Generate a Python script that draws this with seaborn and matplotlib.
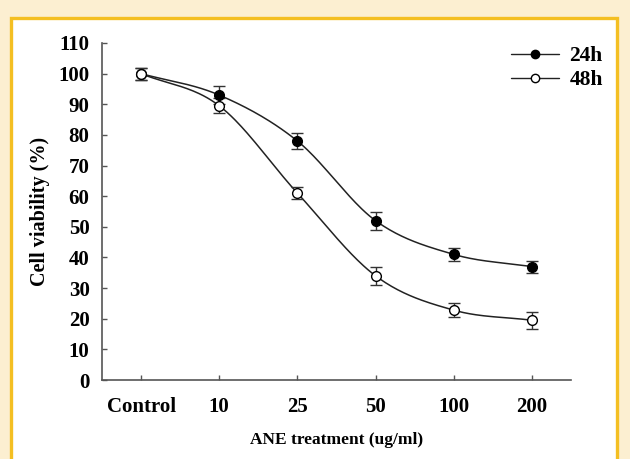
import numpy as np
import pandas as pd
import matplotlib
matplotlib.use("Agg")
import matplotlib.pyplot as plt
import seaborn as sns
from matplotlib.patches import Rectangle
from matplotlib.lines import Line2D

doses = ["Control", "10", "25", "50", "100", "200"]
via_24h = [100, 93, 78, 52, 41, 37]
err_24h = [2, 3, 2.5, 3, 2, 2]
via_48h = [100, 89.5, 61, 34, 22.8, 19.5]
err_48h = [2, 2.5, 2, 3, 2.2, 2.8]
series_labels = ["24h", "48h"]

sns.set_theme(style="white")
plt.rcParams['font.family'] = ['Liberation Serif', 'DejaVu Serif']
plt.rcParams['font.weight'] = 'bold'
plt.rcParams['text.color'] = 'black'

fig = plt.figure(figsize=(6.30, 4.59), dpi=100)
fig.patch.set_facecolor('#FCEFD1')
fig.patches.append(Rectangle((10.5/630, -0.05), 606/630, 1.05 - 17.5/459,
                             transform=fig.transFigure, facecolor='white',
                             edgecolor='#F4BF22', linewidth=2.4, zorder=-10))

ax = fig.add_axes([102/630, 1 - 380/459, 469/630, 337/459])
ax.set_zorder(5)
ax.set_facecolor('none')


def smooth(xs, ys, n=40):
    # Catmull-Rom style smoothing through the data points (Excel-like smoothed line)
    xs = np.asarray(xs, float)
    ys = np.asarray(ys, float)
    px = np.concatenate([[2 * xs[0] - xs[1]], xs, [2 * xs[-1] - xs[-2]]])
    py = np.concatenate([[2 * ys[0] - ys[1]], ys, [2 * ys[-1] - ys[-2]]])
    ox, oy = [], []
    t = np.linspace(0, 1, n)
    for i in range(1, len(px) - 2):
        p0, p1, p2, p3 = px[i - 1], px[i], px[i + 1], px[i + 2]
        q0, q1, q2, q3 = py[i - 1], py[i], py[i + 1], py[i + 2]
        c1x, c1y = p1 + (p2 - p0) / 6, q1 + (q2 - q0) / 6
        c2x, c2y = p2 - (p3 - p1) / 6, q2 - (q3 - q1) / 6
        bx = (1 - t) ** 3 * p1 + 3 * (1 - t) ** 2 * t * c1x + 3 * (1 - t) * t ** 2 * c2x + t ** 3 * p2
        by = (1 - t) ** 3 * q1 + 3 * (1 - t) ** 2 * t * c1y + 3 * (1 - t) * t ** 2 * c2y + t ** 3 * q2
        ox.extend(bx); oy.extend(by)
    return np.array(ox), np.array(oy)


xpos = np.arange(len(doses))
line_color = '#222222'
for vals, errs, fill in [(via_24h, err_24h, 'black'), (via_48h, err_48h, 'white')]:
    sx, sy = smooth(xpos, vals)
    df = pd.DataFrame({"x": sx, "y": sy})
    sns.lineplot(data=df, x="x", y="y", ax=ax, color=line_color, lw=1.1,
                 sort=False, estimator=None, zorder=2)
    ax.errorbar(xpos, vals, yerr=errs, fmt='none', ecolor='#333333',
                elinewidth=1.0, capsize=4, capthick=1.0, zorder=3)
    ax.plot(xpos, vals, 'o', ms=7, mfc=fill, mec='black', mew=1.0,
            ls='none', zorder=4)

ax.set_xlim(-0.5, 5.5)
ax.set_ylim(0, 110)
ax.set_yticks(np.arange(0, 111, 10))
ax.set_xticks(xpos)
ax.set_xticklabels(doses)

for s in ['top', 'right']:
    ax.spines[s].set_visible(False)
for s in ['left', 'bottom']:
    ax.spines[s].set_color('#555555')
    ax.spines[s].set_linewidth(1.2)

ax.tick_params(axis='y', direction='in', length=3.5, width=1.0, color='#555555',
               labelsize=15, pad=9, left=True)
ax.tick_params(axis='x', direction='in', length=3.5, width=1.0, color='#555555',
               labelsize=15, pad=12, bottom=True)
for lab in ax.get_xticklabels() + ax.get_yticklabels():
    lab.set_fontweight('bold')
    lab.set_color('black')

ax.set_xlabel("ANE treatment (ug/ml)", fontsize=12.5, fontweight='bold',
              color='black', labelpad=11)
ax.set_ylabel("Cell viability (%)", fontsize=14.5, fontweight='bold',
              color='black', labelpad=6)

handles = [
    Line2D([], [], color=line_color, lw=1.0, marker='o', ms=6, mfc='black', mec='black'),
    Line2D([], [], color=line_color, lw=1.0, marker='o', ms=6, mfc='white', mec='black'),
]
leg = ax.legend(handles, series_labels, loc='upper right', frameon=False,
                fontsize=15.5, handlelength=2.2, handletextpad=0.5,
                labelspacing=0.2, borderpad=0, borderaxespad=0,
                bbox_to_anchor=(603/630, 1 - 46/459),
                bbox_transform=fig.transFigure)
for t in leg.get_texts():
    t.set_fontweight('bold')
    t.set_color('black')

fig.savefig("out.png", dpi=100, facecolor=fig.get_facecolor())
